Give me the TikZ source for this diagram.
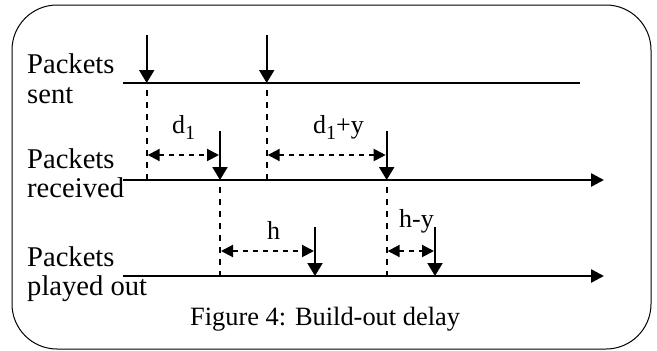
\documentclass[tikz,border=0pt]{standalone}
\usepackage{fontspec}
\setmainfont{Liberation Serif}
\usetikzlibrary{arrows.meta}
\begin{document}
\begin{tikzpicture}[x=1pt,y=-1pt,
  lbl/.style={anchor=base west,inner sep=0pt,font=\fontsize{28.6}{29}\selectfont},
  captxt/.style={anchor=base west,inner sep=0pt,font=\fontsize{26.4}{27}\selectfont},
  dlbl/.style={anchor=base west,inner sep=0pt,font=\fontsize{26}{27}\selectfont},
  axisline/.style={line width=2.6pt},
  axisarr/.style={line width=2.6pt,-{Triangle[length=13pt,width=13pt]}},
  pktarr/.style={line width=2pt,-{Triangle[length=13pt,width=15pt]}},
  guideline/.style={line width=2pt,dash pattern=on 6pt off 6pt},
  spanarr/.style={line width=2pt,dash pattern=on 5pt off 5pt,{Triangle[length=12pt,width=12pt]}-{Triangle[length=12pt,width=12pt]}}]
\useasboundingbox (0,0) rectangle (657,351);
\draw[line width=1pt,rounded corners=45pt] (12,5) rectangle (651,349);
% labels
\node[lbl] (l1a) at (27,73) {Packets};
\node[lbl] (l1b) at (27,103) {sent};
\node[lbl] (l2a) at (27,168) {Packets};
\node[lbl] (l2b) at (27,197) {received};
\node[lbl] (l3a) at (27,266) {Packets};
\node[lbl] (l3b) at (27,295) {played out};
\node[captxt] (caption) at (190,325) {Figure 4: Build-out delay};
% axis coordinates
\coordinate (sa) at (123,83);
\coordinate (sb) at (580,83);
\coordinate (ra) at (123,180);
\coordinate (rb) at (604,180);
\coordinate (pa) at (123,276);
\coordinate (pb) at (604,276);
\draw[axisline] (sa) -- (sb);
\draw[axisarr] (ra) -- (rb);
\draw[axisarr] (pa) -- (pb);
% packet events
\coordinate (s1) at (146.7,83);
\coordinate (s2) at (266.7,83);
\coordinate (r1) at (220,180);
\coordinate (r2) at (386.7,180);
\coordinate (p1) at (315,276);
\coordinate (p2) at (435,276);
\coordinate (s1t) at (146.7,35);
\coordinate (s2t) at (266.7,35);
\coordinate (r1t) at (220,131);
\coordinate (r2t) at (386.7,131);
\coordinate (p1t) at (315,227);
\coordinate (p2t) at (435,227);
\draw[pktarr] (s1t) -- (s1);
\draw[pktarr] (s2t) -- (s2);
\draw[pktarr] (r1t) -- (r1);
\draw[pktarr] (r2t) -- (r2);
\draw[pktarr] (p1t) -- (p1);
\draw[pktarr] (p2t) -- (p2);
% guides
\coordinate (g1a) at (146.7,90);
\coordinate (g2a) at (266.7,90);
\coordinate (g3a) at (220,187);
\coordinate (g4a) at (386.7,187);
\coordinate (g1) at (146.7,180);
\coordinate (g2) at (266.7,180);
\coordinate (g3) at (220,276);
\coordinate (g4) at (386.7,276);
\draw[guideline] (g1a) -- (g1);
\draw[guideline] (g2a) -- (g2);
\draw[guideline] (g3a) -- (g3);
\draw[guideline] (g4a) -- (g4);
% spans
\coordinate (d1a) at (147.7,155);
\coordinate (d1b) at (219,155);
\coordinate (d2a) at (267.7,155);
\coordinate (d2b) at (385.7,155);
\coordinate (h1a) at (221,251);
\coordinate (h1b) at (314,251);
\coordinate (h2a) at (387.7,251);
\coordinate (h2b) at (434,251);
\draw[spanarr] (d1a) -- (d1b);
\draw[spanarr] (d2a) -- (d2b);
\draw[spanarr] (h1a) -- (h1b);
\draw[spanarr] (h2a) -- (h2b);
% span labels
\node[dlbl] (t1) at (172,133) {d\raisebox{-6pt}{\fontsize{20}{20}\selectfont 1}};
\node[dlbl] (t2) at (313,133) {d\raisebox{-6pt}{\fontsize{20}{20}\selectfont 1}+y};
\node[dlbl] (t3) at (267,239) {h};
\node[dlbl] (t4) at (399,227) {h-y};
\end{tikzpicture}
\end{document}
